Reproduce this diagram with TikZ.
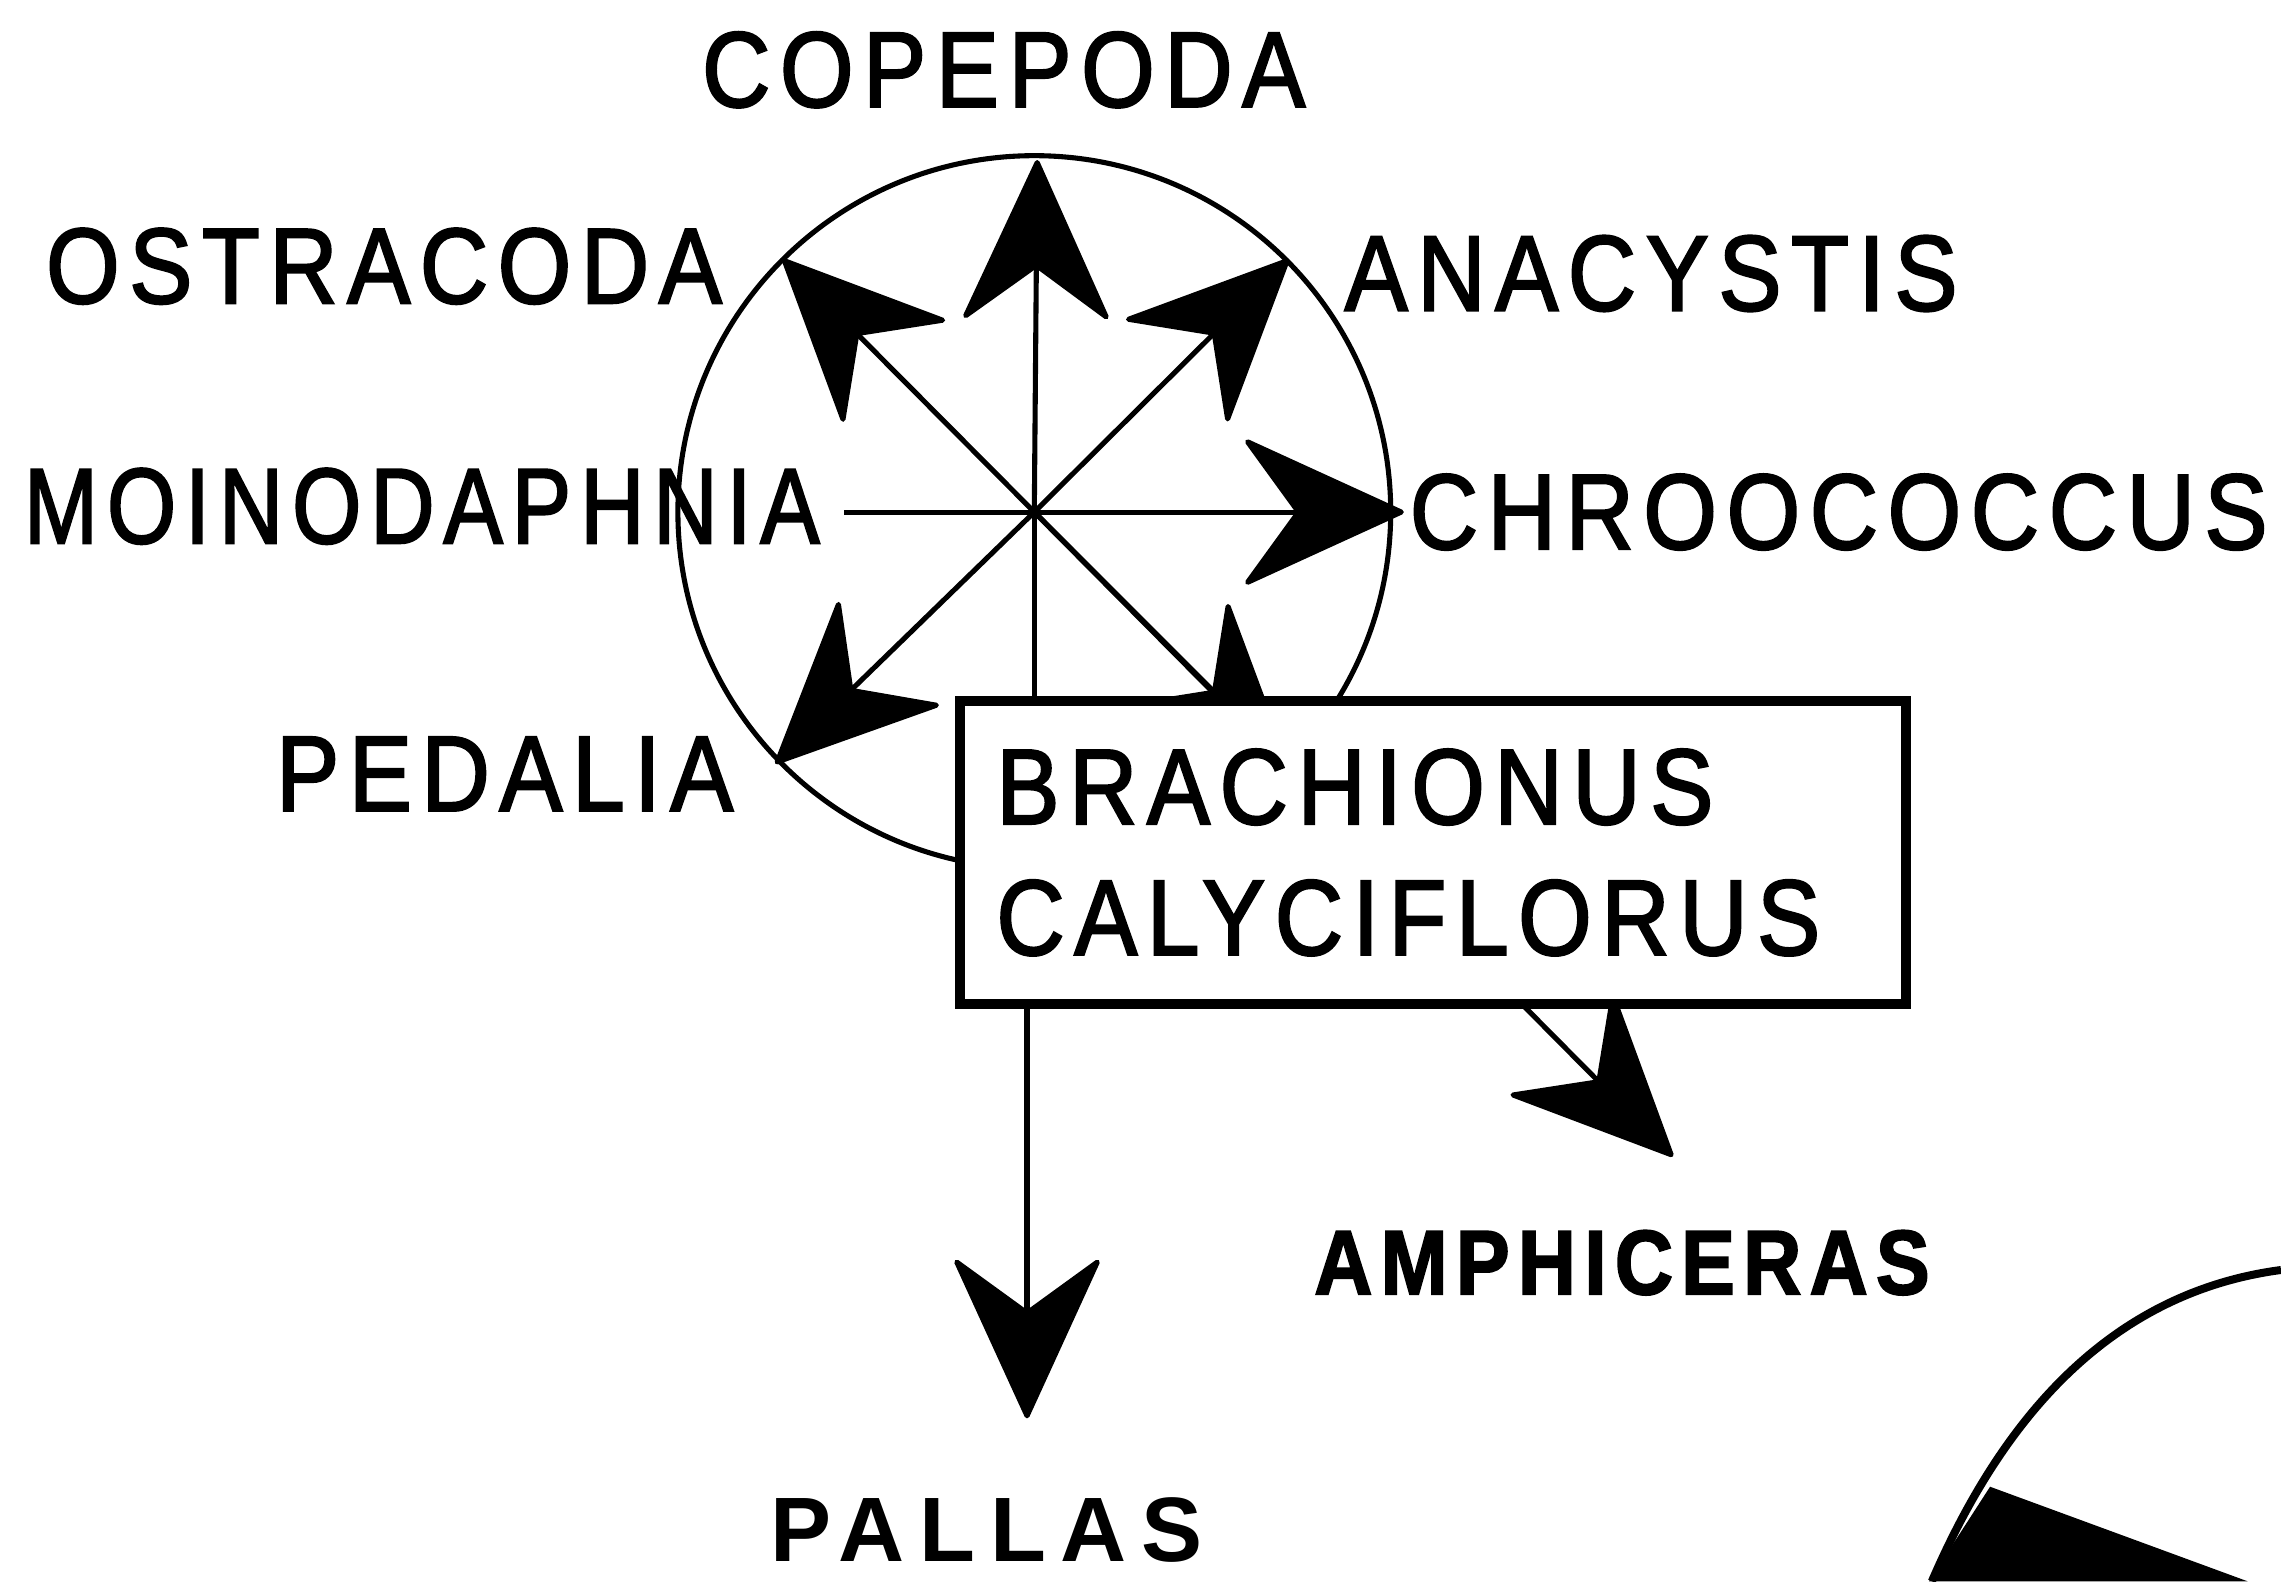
\documentclass[tikz,border=0pt]{standalone}
\usepackage{fontspec}
\setmainfont{Liberation Sans}[FakeStretch=0.88, LetterSpace=9, FakeBold=2]
\newfontfamily\spacedfont[LetterSpace=16]{Liberation Sans}
\usetikzlibrary{arrows.meta,calc}
\newcommand\lblsize{\fontsize{21}{25.6}\selectfont}
\newcommand\smallbold{\fontsize{17.9}{22}\selectfont\bfseries}

\begin{document}
\begin{tikzpicture}[
	x=0.1mm, y=-0.1mm,
	line width=0.35mm,
	lbl/.style={font=\lblsize, inner sep=0pt},
	boldlbl/.style={font=\smallbold, inner sep=0pt},
	head/.style={-{Stealth[length=11.5mm, width=10.5mm, inset=3.8mm, round]}}
	]
	\useasboundingbox (0,0) rectangle (1568,1087);
	
	% hub and arrow tips
	\coordinate (hub) at (711,352);
	\coordinate (tN) at (713,110);
	\coordinate (tNW) at (538,178);
	\coordinate (tNE) at (886,178);
	\coordinate (tE) at (965,352);
	\coordinate (wEnd) at (580,352);
	\coordinate (tSW) at (533,525);
	\coordinate (tSE) at (886,527);
	\coordinate (tAmp) at (1150,795);
	\coordinate (tPal) at (706,975);
	
	\draw (hub) circle[radius=24.5mm];
	
	\draw[head] (hub) -- (tN);
	\draw[head] (hub) -- (tNW);
	\draw[head] (hub) -- (tNE);
	\draw[head] (hub) -- (tE);
	\draw (hub) -- (wEnd);
	\draw[head] (hub) -- (tSW);
	\draw[head] (hub) -- (tSE);
	\draw[head] (hub) -- (tAmp);
	
	% species box
	\node[
	draw,
	fill=white,
	line width=0.7mm,
	minimum width=65mm,
	minimum height=20.8mm,
	text width=60mm,
	inner xsep=2.5mm,
	align=left,
	font=\lblsize
	] (brach) at (985,586) {BRACHIONUS\\CALYCIFLORUS};
	
	\draw (hub) -- (hub |- brach.north);
	\draw[head] (brach.south -| tPal) -- (tPal);
	
	% labels
	\node[lbl] (copepoda) at (690,48) {COPEPODA};
	\node[lbl] (ostracoda) at (264,183) {OSTRACODA};
	\node[lbl] (anacystis) at (1135,188) {ANACYSTIS};
	\node[lbl] (moino) at (290,348) {\scalebox{0.94}[1]{MOINODAPHNIA}};
	\node[lbl] (chroo) at (1264,352) {CHROOCOCCUS};
	\node[lbl] (pedalia) at (347,532) {PEDALIA};
	\node[boldlbl] (amphi) at (1115,868) {AMPHICERAS};
	\node[boldlbl] (pallas) at (678,1052) {\spacedfont\bfseries PALLAS};
	
	% next figure, cut off
	\draw[line width=0.55mm] (1328,1087) .. controls (1370,990) and (1440,890) .. (1568,873);
	\fill (1368,1022) -- (1545,1087) -- (1326,1087) -- cycle;
\end{tikzpicture}
\end{document}
